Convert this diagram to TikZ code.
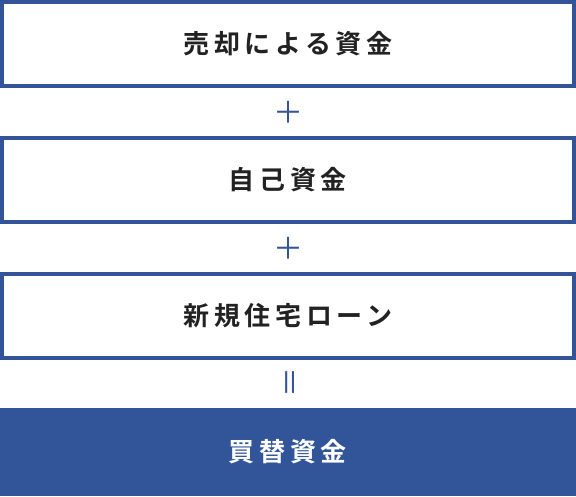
\documentclass[tikz,border=0pt]{standalone}
\usepackage{fontspec}
\newfontfamily\jpfont[LetterSpace=18]{Noto Sans CJK JP}[BoldFont={Noto Sans CJK JP Bold}]
\newfontfamily\jpsign{Noto Sans CJK JP}
\usetikzlibrary{positioning}

\definecolor{fundblue}{HTML}{32559A}
\definecolor{fundtext}{HTML}{222222}

\tikzset{
  fundbox/.style={draw=fundblue, line width=4pt, fill=white,
    minimum width=572pt, minimum height=84pt, inner sep=0pt,
    font=\jpfont\bfseries\fontsize{26pt}{30pt}\selectfont, text=fundtext},
  totalbox/.style={fill=fundblue, draw=none,
    minimum width=576pt, minimum height=88pt, inner sep=0pt,
    font=\jpfont\bfseries\fontsize{26pt}{30pt}\selectfont, text=white},
  sign/.style={text=fundblue, inner sep=0pt,
    font=\jpsign\fontsize{30pt}{30pt}\selectfont}
}

\begin{document}
\begin{tikzpicture}[x=1pt,y=-1pt]
     \useasboundingbox (0,0) rectangle (576,496);

     % the three sources of money
     \node[fundbox] (sale) at (288,44)  {売却による資金};
     \node[fundbox] (own)  at (288,180) {自己資金};
     \node[fundbox] (loan) at (288,316) {新規住宅ローン};

     % signs between them
     \node[sign] (plusA) at (288,112) {＋};
     \node[sign] (plusB) at (288,248) {＋};
     \node[sign,rotate=90] (equal) at (294,382) {＝};

     % the total
     \node[totalbox] (total) at (288,452) {買替資金};
\end{tikzpicture}
\end{document}
